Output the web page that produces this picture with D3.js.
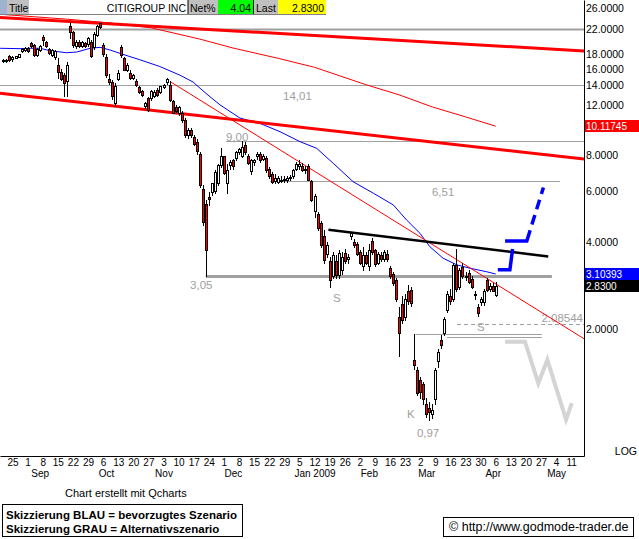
<!DOCTYPE html>
<html><head><meta charset="utf-8">
<script src="https://cdn.jsdelivr.net/npm/d3@7"></script>
<style>
body{margin:0;background:#fff}
svg{display:block}
text{font-family:"Liberation Sans",Arial,sans-serif;font-size:11px}
</style></head>
<body><svg id="c" width="639" height="539"></svg>
<script>
// ---------- DATA ----------
// trading-day numbers: 0 = Mon 2008-08-25, every weekday counts one
const firstDay = -3;   // first candle: Wed 2008-08-20
const open  = [17.0,17.1,17.7,17.25,17.5,17.65,18.4,18.55,18.9,19.7,19.3,17.9,18.6,20.7,19.9,18.7,17.9,17.6,16.5,15.6,15.2,14.55,22.6,21.4,19.2,19.9,19.2,19.6,19.45,19.9,19.0,21.0,23.1,19.3,17.6,14.75,14.4,12.2,14.7,19.1,17.4,15.9,15.5,14.9,14.5,13.8,13.35,11.9,12.65,12.7,12.9,13.55,13.3,13.8,14.35,14.1,12.35,11.8,11.2,11.2,10.6,9.4,9.8,9.3,8.95,8.1,6.1,5.45,5.75,6.0,6.05,6.4,7.4,7.95,6.4,7.4,7.7,7.85,8.25,8.0,8.7,8.0,7.05,7.6,7.95,8.1,7.8,7.85,7.2,6.9,6.55,6.5,6.6,6.65,6.6,6.7,6.8,7.2,7.35,7.35,7.1,7.35,6.55,5.15,5.0,4.65,4.2,3.65,3.45,3.05,3.45,3.08,3.2,3.67,3.5,4.2,4.0,3.95,3.7,3.3,3.6,3.3,4.05,3.75,3.4,3.6,3.5,3.65,3.25,3.1,2.95,2.2,2.45,2.2,2.7,2.73,1.56,1.44,1.33,1.29,1.10,1.06,1.01,1.14,1.55,1.83,1.93,2.33,2.60,2.55,3.34,2.80,3.28,3.05,3.12,2.98,2.64,2.39,2.48,2.48,2.96,2.76,2.81,2.63];
const high  = [17.3,17.3,17.9,17.7,17.8,18.0,18.9,19.1,19.1,19.9,19.5,18.9,19.4,21.0,20.0,18.9,18.8,18.6,17.5,16.0,15.5,16.9,23.2,21.7,20.1,20.1,20.0,19.9,20.7,20.2,21.5,22.7,22.95,19.6,18.0,15.3,14.6,14.3,15.9,19.4,17.6,16.8,15.8,15.4,14.8,14.0,13.5,12.3,12.8,13.5,13.5,13.7,14.0,14.2,14.9,14.5,12.5,12.0,11.9,11.4,10.8,9.95,9.95,9.4,9.1,8.2,6.3,5.6,6.0,6.4,7.1,7.5,8.5,8.0,7.5,7.7,7.8,8.3,8.5,9.0,8.9,8.1,7.8,7.8,8.2,8.2,8.1,8.0,7.3,7.0,6.9,6.8,6.8,6.8,6.8,6.85,7.2,7.6,7.7,7.55,7.35,7.45,6.6,5.9,5.1,4.75,4.4,4.0,3.55,3.7,3.6,3.75,3.7,3.8,3.65,4.35,4.1,4.0,3.75,3.85,3.7,3.95,4.15,3.8,3.7,3.7,3.75,3.75,3.3,3.15,3.0,2.38,2.6,2.65,2.85,2.8,1.92,1.48,1.36,1.31,1.15,1.12,1.10,1.47,1.70,1.90,2.20,2.70,2.75,3.40,3.80,3.25,3.40,3.15,3.20,3.05,2.70,2.45,2.58,2.75,3.00,2.88,2.88,2.92];
const low   = [16.9,16.9,17.1,17.1,17.4,17.55,18.3,18.4,18.3,19.0,17.8,17.7,18.4,19.4,19.1,18.0,17.7,17.3,14.9,14.6,12.9,12.9,20.5,19.0,18.9,19.0,19.0,19.1,19.2,17.6,18.8,20.8,22.2,17.7,15.0,14.2,12.6,11.9,14.6,17.6,15.8,15.7,14.8,14.7,14.0,13.2,12.9,11.7,11.4,12.5,12.8,12.9,13.2,13.7,14.2,12.4,11.2,11.3,11.1,10.5,9.3,9.2,9.3,8.7,8.1,6.2,4.6,3.05,5.4,5.85,5.95,6.3,7.3,6.9,5.95,7.2,7.2,7.7,8.1,7.9,8.1,7.5,6.9,7.4,7.8,7.6,7.7,7.0,6.7,6.4,6.4,6.4,6.45,6.5,6.5,6.6,6.7,7.1,7.2,7.05,6.95,6.6,5.55,4.9,4.4,3.85,3.4,3.55,2.8,3.0,3.0,3.0,3.1,3.4,3.4,4.1,3.85,3.6,3.35,3.2,3.35,3.2,3.65,3.3,3.35,3.45,3.45,3.45,3.0,2.85,2.5,1.61,2.1,2.15,2.45,2.4,1.45,1.18,1.15,1.10,0.99,0.97,0.98,1.10,1.48,1.72,1.90,2.30,2.45,2.50,2.70,2.75,3.00,2.95,2.88,2.78,2.55,2.22,2.42,2.42,2.70,2.70,2.70,2.60];
const close = [17.2,17.2,17.2,17.55,17.7,17.95,18.8,18.9,18.45,19.15,17.9,18.7,19.2,20.1,19.2,18.15,18.6,18.4,15.6,14.7,14.3,16.5,21.4,19.3,19.9,19.2,19.85,19.25,20.5,17.8,21.2,22.5,22.4,17.95,15.2,14.4,12.9,14.0,15.5,17.9,15.9,16.5,14.9,15.2,14.1,13.3,13.0,12.2,11.5,13.35,13.3,13.0,13.9,14.1,14.7,12.5,11.25,11.4,11.8,10.6,9.45,9.8,9.4,8.8,8.3,6.3,4.7,3.77,5.65,6.4,7.0,7.4,7.95,6.95,7.1,7.6,7.35,8.25,8.4,8.6,8.2,7.55,7.7,7.7,8.1,7.7,8.0,7.1,6.8,6.5,6.7,6.7,6.6,6.6,6.7,6.75,7.1,7.45,7.5,7.1,7.2,6.6,5.6,5.8,4.5,3.9,3.47,3.9,2.96,3.62,3.08,3.67,3.55,3.45,3.55,4.3,3.9,3.65,3.4,3.6,3.4,3.75,3.7,3.35,3.65,3.5,3.7,3.5,3.05,2.9,2.55,1.94,2.15,2.55,2.5,2.46,1.50,1.20,1.21,1.14,1.01,1.03,1.05,1.44,1.66,1.76,2.17,2.65,2.50,3.34,2.75,3.21,3.05,3.02,2.92,2.80,2.62,2.28,2.55,2.71,2.73,2.83,2.72,2.83];

// moving averages (trading day, value)
const maBlueDay = [-4.1,2.5,5.8,9.1,12.4,17.9,21.3,25.7,29,32.3,35.6,42.2,48.8,55.5,59.8,62.1,65.4,68.7,75.3,81.9,88.6,95.2,100.7,106.2,112.8,119.5,126.1,130.5,134.9,138.2,142.6,147.1,151.5,157,160];
const maBlueVal = [18.86,18.8,18.86,18.86,18.5,18.2,18.3,18.86,19.0,18.6,18.1,17.2,16.3,15.2,14.4,13.7,12.8,12.0,10.8,10.35,9.68,8.94,8.48,7.52,6.49,5.92,5.39,4.78,4.30,3.86,3.52,3.34,3.25,3.16,3.10393];
const maRedDay = [-3,18,32,46,62,73,88,100,117,128,139,150,160];
const maRedVal = [24.7,23.8,23.1,22.2,20.3,18.9,17.4,16.2,14.1,13.0,11.8,10.9,10.11745];

// trend lines (trading day, value)
const trendTopDay = [-4.139,189.238], trendTopVal = [24.12,18.46];
const trendLowDay = [-4.139,189.238], trendLowVal = [13.16,7.78];
const trendThinDay = [52.2,189.238],  trendThinVal = [14.45,1.85];
const resistDay = [104.6,177.4],      resistVal = [4.42,3.57];

// horizontal marks
const levelVal  = [22.0,14.01,9.00,6.51,3.05,2.08544,1.92,1.88];
const levelFrom = [-4.2,-4.2,70.7,85.3,64,147.2,133.5,143.9];
const levelTo   = [189.3,189.3,189.3,181.3,178.6,189.3,175.3,175.3];

// scenario sketches
const blueADay = [160.7,164.7,165.6], blueAVal = [3.21,3.21,3.79];
const blueBDay = [163.1,170.3,175.8], blueBVal = [4.04,4.04,6.2];
const greyDay  = [163.1,169.7,174.1,177.1,183.3,185.2];
const greyVal  = [1.807,1.807,1.297,1.562,0.969,1.105];

// labels
const annoText = ["14,01","9,00","6,51","3,05","S","S","K","0,97","2.08544"];
const annoDay  = [89.6,70.7,138.9,58.8,107.4,155.1,131.9,133.9,188.9];
const annoVal  = [12.87,9.3,5.97,2.84,2.56,2.03,1.01,0.87,2.18];

const yTicks = [26,22,18,16,14,12,8,6,4,2];
const dayTickDays = [0,5,10,15,20,25,30,35,40,45,50,55,60,65,70,75,80,85,90,95,100,105,110,115,120,125,130,135,140,145,150,155,160,165,170,175,180,185];
const dayTickLabels = ["25","1","8","15","22","29","6","13","20","27","3","10","17","24","1","8","15","22","29","5","12","19","26","2","9","16","23","2","9","16","23","30","6","13","20","27","4","11"];
const monthLabels = ["Sep","Oct","Nov","Dec","Jan 2009","Feb","Mar","Apr","May"];
const monthDays = [9,31,50,73,100,118,137,159,180];

const markers = [{t:"10.11745",v:10.11745,c:"#ff0000"},{t:"3.10393",v:3.10393,c:"#0000ff"},{t:"2.8300",v:2.83,c:"#000000"}];

// ---------- DRAW ----------
const FONT = "'Liberation Sans',Arial,sans-serif";
const svg = d3.select("#c");
const PW = 584, PH = 456;
const x = d3.scaleLinear().domain([-4.139,189.238]).range([0,PW]);
const y = d3.scaleLog().domain([0.7246,27.74]).range([PH,0]);
const days = open.map((_,k)=>firstDay+k);

svg.append("defs").append("clipPath").attr("id","clip")
  .append("rect").attr("x",0).attr("y",0).attr("width",PW).attr("height",PH);
const g = svg.append("g").attr("clip-path","url(#clip)");

const line = d3.line().x(d=>x(d[0])).y(d=>y(d[1]));
const pts = (a,b)=>a.map((d,k)=>[d,b[k]]);

// horizontal levels
const levelStyle = [
  {w:2,c:"#a0a0a0"},{w:1,c:"#a0a0a0"},{w:1,c:"#a0a0a0"},{w:1,c:"#a0a0a0"},
  {w:3,c:"#a0a0a0"},{w:1,c:"#a0a0a0",dash:"4,3"},{w:1,c:"#a0a0a0"},{w:1,c:"#a0a0a0"}];
g.selectAll(".lvl").data(levelVal).join("line")
  .attr("x1",(d,k)=>x(levelFrom[k])).attr("x2",(d,k)=>x(levelTo[k]))
  .attr("y1",d=>Math.round(y(d))+0.5).attr("y2",d=>Math.round(y(d))+0.5)
  .attr("stroke",(d,k)=>levelStyle[k].c).attr("stroke-width",(d,k)=>levelStyle[k].w)
  .attr("stroke-dasharray",(d,k)=>levelStyle[k].dash||null);

// annotation labels
const annoAnchor = ["start","start","start","start","middle","middle","middle","start","end"];
g.selectAll(".anno").data(annoText).join("text")
  .attr("x",(d,k)=>x(annoDay[k])).attr("y",(d,k)=>y(annoVal[k]))
  .attr("dominant-baseline","central").attr("text-anchor",(d,k)=>annoAnchor[k])
  .attr("fill","#a0a0a0").style("font-size","11.5px").text(d=>d);

// moving averages
g.append("path").attr("d",line(pts(maRedDay,maRedVal))).attr("fill","none").attr("stroke","#ff0000").attr("stroke-width",1);
g.append("path").attr("d",line(pts(maBlueDay,maBlueVal))).attr("fill","none").attr("stroke","#0000ff").attr("stroke-width",1);

// trend lines
g.append("path").attr("d",line(pts(trendThinDay,trendThinVal))).attr("fill","none").attr("stroke","#ff0000").attr("stroke-width",1);
g.append("path").attr("d",line(pts(trendTopDay,trendTopVal))).attr("fill","none").attr("stroke","#ff0000").attr("stroke-width",3);
g.append("path").attr("d",line(pts(trendLowDay,trendLowVal))).attr("fill","none").attr("stroke","#ff0000").attr("stroke-width",3);
g.append("path").attr("d",line(pts(resistDay,resistVal))).attr("fill","none").attr("stroke","#000").attr("stroke-width",2.5);

// candles
const cx = d=>Math.round(x(d));
g.selectAll(".wick").data(days).join("line")
  .attr("x1",d=>cx(d)+0.5).attr("x2",d=>cx(d)+0.5)
  .attr("y1",(d,k)=>Math.round(y(high[k]))).attr("y2",(d,k)=>Math.round(y(low[k]))+1)
  .attr("stroke","#000").attr("stroke-width",1);
g.selectAll(".body").data(days).join("rect")
  .attr("x",d=>cx(d)-0.5).attr("width",2)
  .attr("y",(d,k)=>Math.round(y(Math.max(open[k],close[k])))+0.5)
  .attr("height",(d,k)=>Math.max(1,Math.round(y(Math.min(open[k],close[k])))-Math.round(y(Math.max(open[k],close[k])))))
  .attr("fill",(d,k)=>close[k]<open[k]?"#ff0000":"#ffffff")
  .attr("stroke","#000").attr("stroke-width",1);

// scenario sketches
g.append("path").attr("d",line(pts(greyDay,greyVal))).attr("fill","none").attr("stroke","#d4d4d4").attr("stroke-width",4);
g.append("path").attr("d",line(pts(blueADay,blueAVal))).attr("fill","none").attr("stroke","#0000ff").attr("stroke-width",3.5);
g.append("path").attr("d",line(pts(blueBDay,blueBVal))).attr("fill","none").attr("stroke","#0000ff").attr("stroke-width",3.5)
  .attr("stroke-dasharray","33,6,10,6,10,6,10,6");

// axes
const ax = svg.append("g").attr("transform",`translate(${PW},0)`)
  .call(d3.axisRight(y).tickValues(yTicks).tickFormat(d3.format(".4f")).tickSize(0).tickPadding(2));
ax.select(".domain").attr("stroke","#000");
ax.selectAll("text").attr("fill","#000").style("font-family",FONT).style("font-size","10.5px");

const bx = svg.append("g").attr("transform",`translate(0,${PH})`)
  .call(d3.axisBottom(x).tickValues(dayTickDays).tickFormat((d,k)=>dayTickLabels[k]).tickSize(0).tickPadding(2.5));
bx.select(".domain").attr("stroke","#000");
bx.selectAll("text").attr("fill","#000").style("font-family",FONT).style("font-size","10px");
const mx = svg.append("g").attr("transform",`translate(0,${PH})`)
  .call(d3.axisBottom(x).tickValues(monthDays).tickFormat((d,k)=>monthLabels[k]).tickSize(0).tickPadding(14));
mx.select(".domain").remove();
mx.selectAll("text").attr("fill","#000").style("font-family",FONT).style("font-size","10px");

// value markers on the axis
const mk = svg.append("g");
mk.selectAll("rect").data(markers).join("rect")
  .attr("x",PW+1).attr("width",639-PW-1).attr("y",d=>Math.round(y(d.v))-6).attr("height",12).attr("fill",d=>d.c);
mk.selectAll("text").data(markers).join("text")
  .attr("x",PW+2).attr("y",d=>Math.round(y(d.v))).attr("dominant-baseline","central")
  .attr("fill","#fff").style("font-size","10px").text(d=>d.t);
svg.append("text").attr("x",637).attr("y",451).attr("text-anchor","end").attr("dominant-baseline","central")
  .style("font-size","10.5px").text("LOG");

// header bar
const hd = svg.append("g");
hd.append("rect").attr("x",0).attr("y",0).attr("width",326).attr("height",14).attr("fill","#fff");
hd.append("rect").attr("x",0).attr("y",0).attr("width",7).attr("height",14).attr("fill","#9fb3d1");
hd.append("rect").attr("x",7).attr("y",0).attr("width",22).attr("height",14).attr("fill","#c0c0c0");
hd.append("rect").attr("x",188).attr("y",0).attr("width",30).attr("height",14).attr("fill","#c0c0c0");
hd.append("rect").attr("x",218).attr("y",0).attr("width",35).attr("height",14).attr("fill","#00ff00");
hd.append("rect").attr("x",254).attr("y",0).attr("width",24).attr("height",14).attr("fill","#c0c0c0");
hd.append("rect").attr("x",278).attr("y",0).attr("width",48).attr("height",14).attr("fill","#ffff00");
hd.append("line").attr("x1",188).attr("x2",188).attr("y1",0).attr("y2",14).attr("stroke","#000");
hd.append("line").attr("x1",253.5).attr("x2",253.5).attr("y1",0).attr("y2",14).attr("stroke","#000");
hd.append("line").attr("x1",0).attr("x2",326).attr("y1",14.5).attr("y2",14.5).attr("stroke","#808080");
const ht = [["Title",9,"start"],["CITIGROUP INC",186,"end"],["Net%",190,"start"],["4.04",251,"end"],["Last",256,"start"],["2.8300",324,"end"]];
hd.selectAll("text").data(ht).join("text").attr("x",d=>d[1]).attr("y",7.5).attr("text-anchor",d=>d[2])
  .attr("dominant-baseline","central").style("font-size","10.5px").text(d=>d[0]);

// footer
svg.append("text").attr("x",65).attr("y",493).attr("dominant-baseline","central").text("Chart erstellt mit Qcharts");
svg.append("rect").attr("x",2.5).attr("y",504.5).attr("width",240).attr("height",32).attr("fill","#fff").attr("stroke","#000");
svg.append("text").attr("x",6).attr("y",515).attr("dominant-baseline","central").style("font-weight","bold").style("font-size","11.5px").text("Skizzierung BLAU = bevorzugtes Szenario");
svg.append("text").attr("x",6).attr("y",529).attr("dominant-baseline","central").style("font-weight","bold").style("font-size","11.5px").text("Skizzierung GRAU = Alternativszenario");
svg.append("rect").attr("x",443.5).attr("y",517.5).attr("width",190).attr("height",19).attr("fill","#fff").attr("stroke","#000");
svg.append("text").attr("x",449).attr("y",527).attr("dominant-baseline","central").style("font-size","12.5px").text("\u00a9 http://www.godmode-trader.de");
</script></body></html>
